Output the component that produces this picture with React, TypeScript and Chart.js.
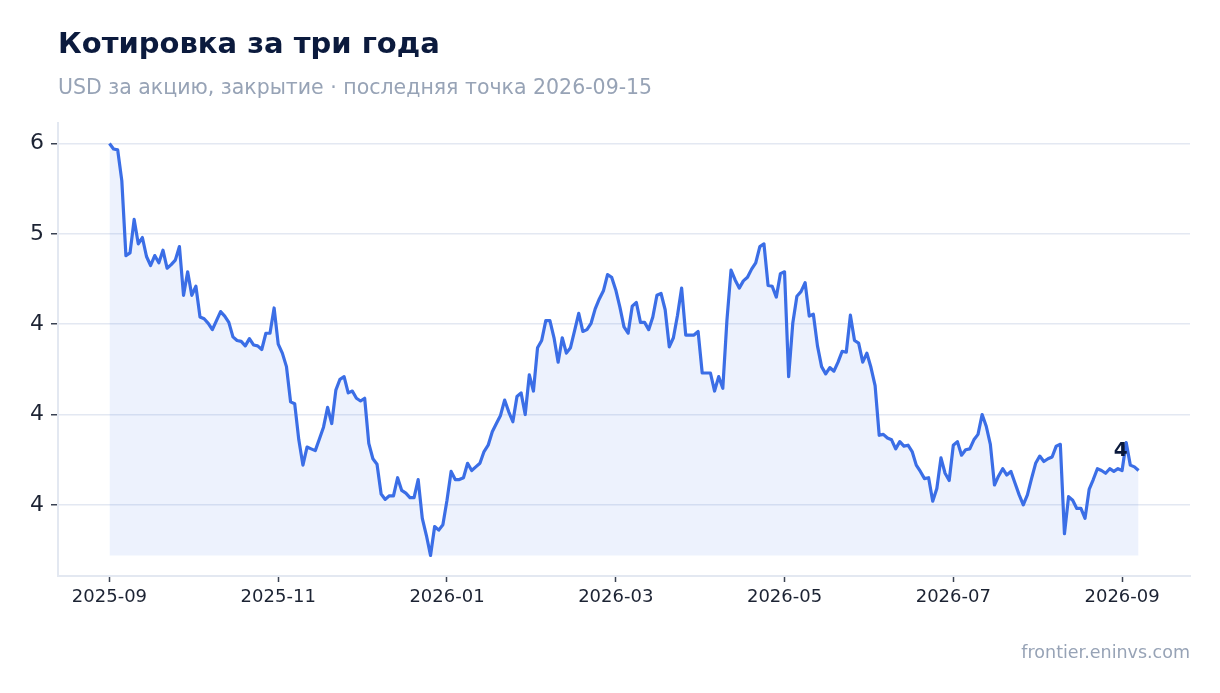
import { useEffect, useRef } from "react";
import { Chart, registerables } from "chart.js";

Chart.register(...registerables);

// закрытия, по одной точке на торговый шаг (2025-09-01 … 2026-09-15)
const prices = [
  6.0, 5.94, 5.93, 5.59, 4.76, 4.79, 5.16, 4.89, 4.96, 4.75,
  4.65, 4.76, 4.68, 4.82, 4.62, 4.66, 4.71, 4.86, 4.32, 4.58,
  4.32, 4.42, 4.08, 4.06, 4.01, 3.94, 4.04, 4.14, 4.09, 4.02,
  3.86, 3.82, 3.81, 3.76, 3.84, 3.77, 3.76, 3.72, 3.9, 3.9,
  4.18, 3.78, 3.68, 3.53, 3.14, 3.12, 2.72, 2.44, 2.64, 2.62,
  2.6, 2.73, 2.86, 3.08, 2.9, 3.27, 3.39, 3.42, 3.24, 3.26,
  3.18, 3.15, 3.18, 2.68, 2.51, 2.45, 2.12, 2.06, 2.1, 2.1,
  2.3, 2.16, 2.13, 2.08, 2.08, 2.28, 1.85, 1.66, 1.44, 1.76,
  1.72, 1.78, 2.05, 2.37, 2.28, 2.28, 2.3, 2.46, 2.38, 2.42,
  2.46, 2.59, 2.66, 2.81, 2.9, 2.99, 3.16, 3.03, 2.92, 3.2,
  3.24, 3.0, 3.44, 3.26, 3.74, 3.82, 4.04, 4.04, 3.85, 3.58,
  3.85, 3.68, 3.74, 3.93, 4.12, 3.92, 3.94, 4.01, 4.17, 4.28,
  4.37, 4.55, 4.52, 4.38, 4.19, 3.97, 3.9, 4.2, 4.24, 4.02,
  4.02, 3.94, 4.08, 4.32, 4.34, 4.16, 3.75, 3.85, 4.1, 4.4,
  3.88, 3.88, 3.88, 3.92, 3.46, 3.46, 3.46, 3.26, 3.42, 3.29,
  4.04, 4.6, 4.49, 4.4, 4.48, 4.52, 4.61, 4.68, 4.86, 4.89,
  4.43, 4.42, 4.3, 4.56, 4.58, 3.42, 4.01, 4.31, 4.36, 4.46,
  4.09, 4.11, 3.76, 3.53, 3.45, 3.52, 3.48, 3.58, 3.7, 3.69,
  4.1, 3.82, 3.79, 3.58, 3.68, 3.52, 3.32, 2.77, 2.78, 2.74,
  2.72, 2.62, 2.7, 2.65, 2.66, 2.59, 2.44, 2.37, 2.29, 2.3,
  2.04, 2.18, 2.52, 2.35, 2.27, 2.66, 2.7, 2.55, 2.61, 2.62,
  2.72, 2.78, 3.0, 2.87, 2.67, 2.22, 2.32, 2.4, 2.33, 2.37,
  2.24, 2.11, 2.0, 2.11, 2.29, 2.46, 2.54, 2.48, 2.51, 2.53,
  2.65, 2.67, 1.68, 2.09, 2.05, 1.96, 1.96, 1.85, 2.17, 2.28,
  2.4, 2.38, 2.35, 2.4, 2.37, 2.4, 2.38, 2.69, 2.44, 2.42,
  2.38,
];

const xTickIndex = [0, 41, 82, 123, 164, 205, 246];
const xTickLabels = ["2025-09", "2025-11", "2026-01", "2026-03", "2026-05", "2026-07", "2026-09"];

const yTickValues = [6, 5, 4, 3, 2];
const yTickLabels = ["6", "5", "4", "4", "4"];

const lastLabel = "4";

const FONT = "'DejaVu Sans', sans-serif";
const LINE = "#3b6ee6";

const lastPointLabel = {
  id: "lastPointLabel",
  afterDatasetsDraw(chart: Chart) {
    const meta = chart.getDatasetMeta(0);
    const pt = meta.data[meta.data.length - 1];
    if (!pt) return;
    const ctx = chart.ctx;
    ctx.save();
    ctx.font = `bold 20px ${FONT}`;
    ctx.fillStyle = "#0b1a3d";
    ctx.textAlign = "right";
    ctx.textBaseline = "alphabetic";
    ctx.fillText(lastLabel, pt.x - 11, pt.y - 15);
    ctx.restore();
  },
};

function PriceChart() {
  const canvasRef = useRef<HTMLCanvasElement>(null);
  const chartRef = useRef<Chart | null>(null);

  useEffect(() => {
    if (!canvasRef.current) return;
    if (chartRef.current) chartRef.current.destroy();

    const lo = Math.min(...prices);
    const hi = Math.max(...prices);
    const yPad = (hi - lo) * 0.05;
    const n = prices.length - 1;
    const xPad = n * 0.05;

    chartRef.current = new Chart(canvasRef.current, {
      type: "line",
      data: {
        datasets: [
          {
            data: prices.map((y, i) => ({ x: i, y })),
            borderColor: LINE,
            borderWidth: 3.2,
            backgroundColor: "rgba(59,110,230,0.09)",
            fill: { value: lo },
            pointRadius: 0,
            tension: 0,
            borderJoinStyle: "round",
          },
        ],
      },
      options: {
        animation: false,
        responsive: true,
        maintainAspectRatio: false,
        layout: { padding: { top: 123, left: 0, right: 30, bottom: 77 } },
        plugins: { legend: { display: false }, tooltip: { enabled: false } },
        scales: {
          x: {
            type: "linear",
            min: -xPad,
            max: n + xPad,
            afterBuildTicks: (axis: any) => {
              axis.ticks = xTickIndex.map((v) => ({ value: v }));
            },
            afterFit: (axis: any) => {
              axis.height = 40;
            },
            grid: { drawOnChartArea: false, tickLength: 6, tickColor: "#3a4252", tickWidth: 1.5 },
            border: { color: "#e3e8f1", width: 2 },
            ticks: {
              autoSkip: false,
              maxRotation: 0,
              padding: 5,
              color: "#1c2333",
              font: { family: FONT, size: 18 },
              callback: (v: any) => {
                const k = xTickIndex.indexOf(Number(v));
                return k >= 0 ? xTickLabels[k] : "";
              },
            },
          },
          y: {
            min: lo - yPad,
            max: hi + yPad,
            afterBuildTicks: (axis: any) => {
              axis.ticks = yTickValues.map((v) => ({ value: v }));
            },
            afterFit: (axis: any) => {
              axis.width = 58;
            },
            grid: { color: "#e3e8f2", lineWidth: 1.5, tickLength: 7, tickColor: "#3a4252", tickWidth: 1.5 },
            border: { color: "#e3e8f1", width: 2 },
            ticks: {
              padding: 7,
              color: "#1c2333",
              font: { family: FONT, size: 22 },
              callback: (v: any) => {
                const k = yTickValues.indexOf(Number(v));
                return k >= 0 ? yTickLabels[k] : "";
              },
            },
          },
        },
      },
      plugins: [lastPointLabel],
    });

    return () => {
      if (chartRef.current) {
        chartRef.current.destroy();
        chartRef.current = null;
      }
    };
  }, []);

  return <canvas ref={canvasRef} />;
}

export default function App() {
  return (
    <div
      style={{
        position: "absolute",
        left: 0,
        top: 0,
        width: 1220,
        height: 693,
        background: "#fff",
        fontFamily: FONT,
        overflow: "hidden",
      }}
    >
      <div style={{ position: "absolute", left: 0, top: 0, width: 1220, height: 693 }}>
        <PriceChart />
      </div>
      <div
        style={{
          position: "absolute",
          left: 58,
          top: 26,
          fontSize: 29,
          lineHeight: "34px",
          fontWeight: "bold",
          color: "#0b1a3d",
          whiteSpace: "nowrap",
        }}
      >
        Котировка за три года
      </div>
      <div
        style={{
          position: "absolute",
          left: 58,
          top: 75,
          fontSize: 20.5,
          lineHeight: "24px",
          color: "#97a3b6",
          whiteSpace: "nowrap",
        }}
      >
        USD за акцию, закрытие · последняя точка 2026-09-15
      </div>
      <div
        style={{
          position: "absolute",
          right: 30,
          top: 642,
          fontSize: 17.5,
          lineHeight: "20px",
          color: "#97a3b6",
          whiteSpace: "nowrap",
        }}
      >
        frontier.eninvs.com
      </div>
    </div>
  );
}
